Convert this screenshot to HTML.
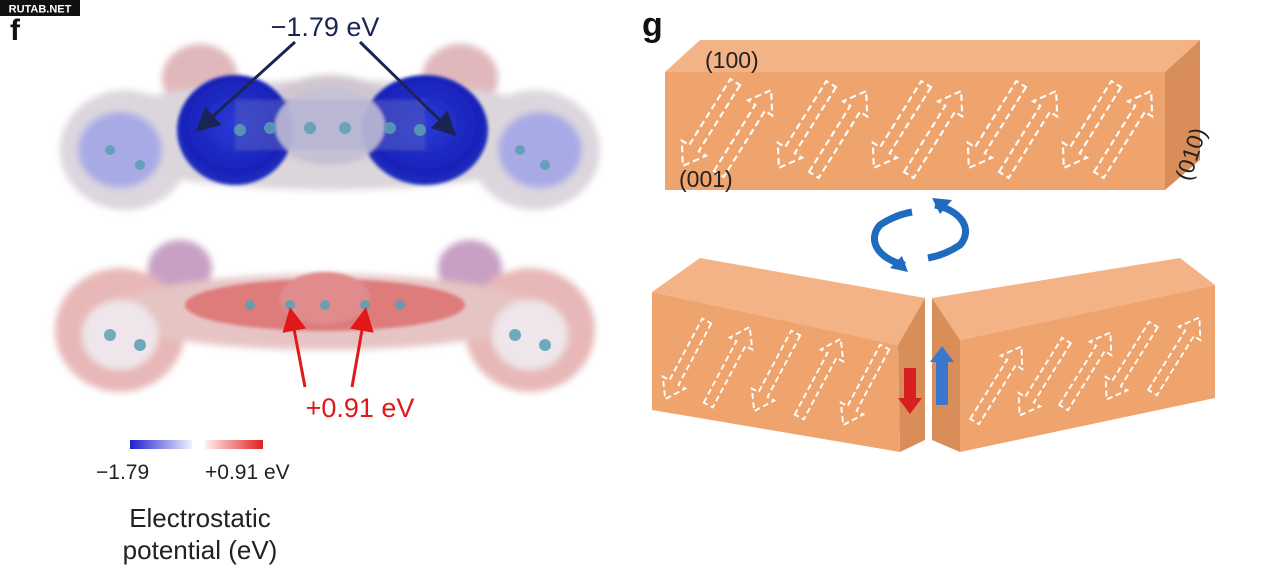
<!DOCTYPE html>
<html><head><meta charset="utf-8"><style>
html,body{margin:0;padding:0;background:#fff;}
svg{display:block;}
text{font-family:"Liberation Sans",sans-serif;}
</style></head><body>
<svg width="1280" height="577" viewBox="0 0 1280 577" xmlns="http://www.w3.org/2000/svg">
<defs>
<filter id="bl" x="-20%" y="-20%" width="140%" height="140%"><feGaussianBlur stdDeviation="3.5"/></filter>
<filter id="bl2" x="-20%" y="-20%" width="140%" height="140%"><feGaussianBlur stdDeviation="1.5"/></filter>
<radialGradient id="blue" cx="50%" cy="45%" r="55%"><stop offset="0" stop-color="#2a3ad8"/><stop offset="0.8" stop-color="#1822b8"/><stop offset="1" stop-color="#2030c0"/></radialGradient>
<linearGradient id="cbB" x1="0" x2="1"><stop offset="0" stop-color="#2020d0"/><stop offset="1" stop-color="#f0f0ff"/></linearGradient>
<linearGradient id="cbR" x1="0" x2="1"><stop offset="0" stop-color="#fff0f0"/><stop offset="1" stop-color="#e02020"/></linearGradient>
<marker id="an" markerWidth="8" markerHeight="8" refX="6" refY="4" orient="auto" markerUnits="strokeWidth"><path d="M0,0 L8,4 L0,8 z" fill="#1a2555"/></marker>
<marker id="ar" markerWidth="8" markerHeight="8" refX="6" refY="4" orient="auto" markerUnits="strokeWidth"><path d="M0,0 L8,4 L0,8 z" fill="#e01818"/></marker>
<path id="arr" d="M-6,52 L-6,-30 L-15,-30 L0,-52 L15,-30 L6,-30 L6,52 Z" fill="none" stroke="#fff" stroke-width="2.2" stroke-dasharray="7,4"/>
</defs>

<rect x="0" y="0" width="80" height="16" fill="#111"/>
<text x="40" y="12.5" font-size="11" font-weight="bold" fill="#fff" text-anchor="middle">RUTAB.NET</text>
<text x="10" y="40" font-size="30" font-weight="bold" fill="#111">f</text>
<text x="642" y="36" font-size="34" font-weight="bold" fill="#111">g</text>

<g filter="url(#bl)">
<ellipse cx="200" cy="78" rx="38" ry="34" fill="#e0b8bc"/>
<ellipse cx="460" cy="78" rx="38" ry="34" fill="#e0b8bc"/>
<ellipse cx="125" cy="150" rx="65" ry="60" fill="#ddd6de"/>
<ellipse cx="535" cy="150" rx="65" ry="60" fill="#ddd6de"/>
<ellipse cx="330" cy="135" rx="255" ry="55" fill="#dcd6dc"/>
<ellipse cx="120" cy="150" rx="42" ry="38" fill="#a8aae6"/>
<ellipse cx="540" cy="150" rx="42" ry="38" fill="#a8aae6"/>
<ellipse cx="330" cy="120" rx="70" ry="45" fill="#d0c6d0"/>
</g>
<g filter="url(#bl2)">
<ellipse cx="235" cy="130" rx="58" ry="55" fill="url(#blue)"/>
<ellipse cx="425" cy="130" rx="63" ry="55" fill="url(#blue)"/>
<rect x="235" y="100" width="190" height="50" fill="#5058c0" opacity="0.6"/>
<ellipse cx="330" cy="126" rx="55" ry="38" fill="#c4c0d6" opacity="0.85"/>
</g>
<g fill="#5aa0b4" opacity="0.85">
<circle cx="240" cy="130" r="6"/><circle cx="270" cy="128" r="6"/><circle cx="310" cy="128" r="6"/><circle cx="345" cy="128" r="6"/><circle cx="390" cy="128" r="6"/><circle cx="420" cy="130" r="6"/>
<circle cx="110" cy="150" r="5"/><circle cx="140" cy="165" r="5"/><circle cx="520" cy="150" r="5"/><circle cx="545" cy="165" r="5"/>
</g>
<text x="325" y="36" font-size="27" fill="#1a2555" text-anchor="middle">−1.79 eV</text>
<line x1="295" y1="42" x2="200" y2="128" stroke="#1a2555" stroke-width="3" marker-end="url(#an)"/>
<line x1="360" y1="42" x2="452" y2="132" stroke="#1a2555" stroke-width="3" marker-end="url(#an)"/>

<g filter="url(#bl)">
<ellipse cx="180" cy="268" rx="32" ry="28" fill="#c8a0c4"/>
<ellipse cx="470" cy="268" rx="32" ry="28" fill="#c8a0c4"/>
<ellipse cx="120" cy="330" rx="65" ry="62" fill="#e8b8b8"/>
<ellipse cx="530" cy="330" rx="65" ry="62" fill="#e8b8b8"/>
<ellipse cx="325" cy="312" rx="215" ry="38" fill="#e6c4c4"/>
<ellipse cx="120" cy="335" rx="38" ry="35" fill="#eee6ea"/>
<ellipse cx="530" cy="335" rx="38" ry="35" fill="#eee6ea"/>
</g>
<g filter="url(#bl2)">
<ellipse cx="325" cy="305" rx="140" ry="26" fill="#de7c7c"/>
<ellipse cx="325" cy="298" rx="45" ry="26" fill="#e08c8c"/>
</g>
<g fill="#5aa0b4" opacity="0.85">
<circle cx="250" cy="305" r="5"/><circle cx="290" cy="305" r="5"/><circle cx="325" cy="305" r="5"/><circle cx="365" cy="305" r="5"/><circle cx="400" cy="305" r="5"/>
<circle cx="110" cy="335" r="6"/><circle cx="140" cy="345" r="6"/><circle cx="515" cy="335" r="6"/><circle cx="545" cy="345" r="6"/>
</g>
<text x="360" y="417" font-size="27" fill="#e01818" text-anchor="middle">+0.91 eV</text>
<line x1="305" y1="387" x2="291" y2="313" stroke="#e01818" stroke-width="3" marker-end="url(#ar)"/>
<line x1="352" y1="387" x2="365" y2="313" stroke="#e01818" stroke-width="3" marker-end="url(#ar)"/>

<rect x="130" y="440" width="62" height="9" fill="url(#cbB)"/>
<rect x="205" y="440" width="58" height="9" fill="url(#cbR)"/>
<text x="96" y="479" font-size="21" fill="#222">−1.79</text>
<text x="205" y="479" font-size="21" fill="#222">+0.91 eV</text>
<text x="200" y="527" font-size="26" fill="#222" text-anchor="middle">Electrostatic</text>
<text x="200" y="559" font-size="26" fill="#222" text-anchor="middle">potential (eV)</text>

<polygon points="665,72 700,40 1200,40 1165,72" fill="#f4b386"/>
<polygon points="1165,72 1200,40 1200,160 1165,190" fill="#d98e5a"/>
<rect x="665" y="72" width="500" height="118" fill="#efa46e"/>
<g>
<use href="#arr" transform="translate(709,124) rotate(212) scale(0.95)"/>
<use href="#arr" transform="translate(745,132) rotate(32) scale(0.95)"/>
<use href="#arr" transform="translate(805,126) rotate(212) scale(0.95)"/>
<use href="#arr" transform="translate(840,133) rotate(32) scale(0.95)"/>
<use href="#arr" transform="translate(900,126) rotate(212) scale(0.95)"/>
<use href="#arr" transform="translate(935,133) rotate(32) scale(0.95)"/>
<use href="#arr" transform="translate(995,126) rotate(212) scale(0.95)"/>
<use href="#arr" transform="translate(1030,133) rotate(32) scale(0.95)"/>
<use href="#arr" transform="translate(1090,126) rotate(212) scale(0.95)"/>
<use href="#arr" transform="translate(1125,133) rotate(32) scale(0.95)"/>
</g>
<text x="705" y="68" font-size="23" fill="#222">(100)</text>
<text x="679" y="187" font-size="23" fill="#222">(001)</text>
<text x="0" y="0" font-size="23" fill="#222" transform="translate(1190,182) rotate(-72)">(010)</text>

<path d="M935,205 A45,28 0 0 1 960,245 Q945,255 928,258" fill="none" stroke="#1f6bbf" stroke-width="7"/>
<polygon points="932,198 952,200 940,214" fill="#1f6bbf"/>
<path d="M905,265 A45,28 0 0 1 880,225 Q895,215 912,212" fill="none" stroke="#1f6bbf" stroke-width="7"/>
<polygon points="908,272 890,268 902,256" fill="#1f6bbf"/>

<polygon points="652,292 700,258 925,298 898,345" fill="#f4b386"/>
<polygon points="898,345 925,298 925,440 900,452" fill="#d98e5a"/>
<polygon points="652,292 898,345 900,452 652,410" fill="#efa46e"/>
<g>
<use href="#arr" transform="translate(686,360) rotate(208) scale(0.85)"/>
<use href="#arr" transform="translate(729,366) rotate(28) scale(0.85)"/>
<use href="#arr" transform="translate(775,372) rotate(208) scale(0.85)"/>
<use href="#arr" transform="translate(820,378) rotate(28) scale(0.85)"/>
<use href="#arr" transform="translate(864,386) rotate(208) scale(0.85)"/>
</g>
<rect x="904" y="368" width="12" height="32" fill="#d82020"/>
<polygon points="898,398 922,398 910,414" fill="#d82020"/>

<polygon points="932,298 1180,258 1215,285 960,340" fill="#f4b386"/>
<polygon points="932,298 960,340 960,452 932,440" fill="#d98e5a"/>
<polygon points="960,340 1215,285 1215,398 960,452" fill="#efa46e"/>
<g>
<use href="#arr" transform="translate(998,384) rotate(32) scale(0.85)"/>
<use href="#arr" transform="translate(1043,378) rotate(212) scale(0.85)"/>
<use href="#arr" transform="translate(1087,370) rotate(32) scale(0.85)"/>
<use href="#arr" transform="translate(1130,362) rotate(212) scale(0.85)"/>
<use href="#arr" transform="translate(1176,355) rotate(32) scale(0.85)"/>
</g>
<rect x="936" y="360" width="12" height="45" fill="#3a78d0"/>
<polygon points="930,362 954,362 942,346" fill="#3a78d0"/>
</svg>
</body></html>
